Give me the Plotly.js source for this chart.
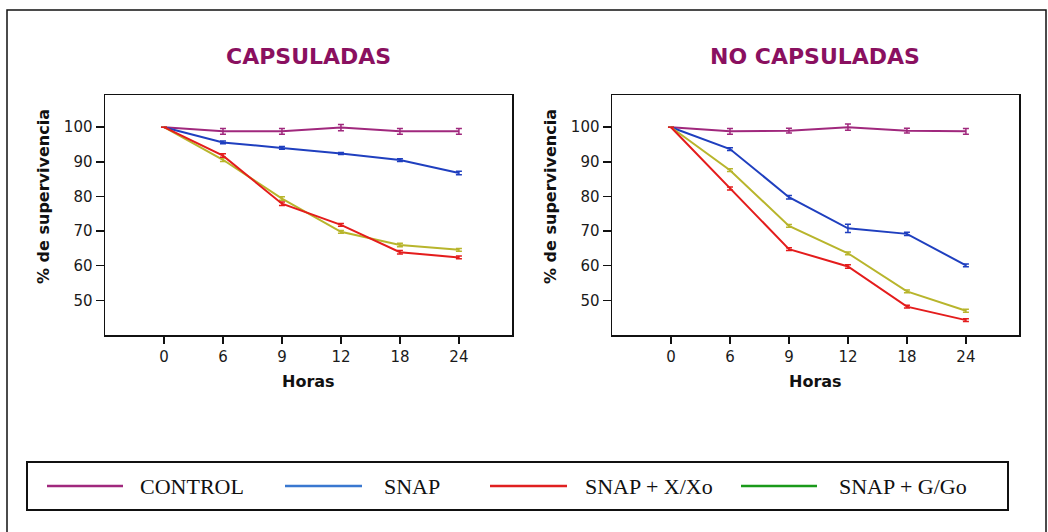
<!DOCTYPE html>
<html>
<head>
<meta charset="utf-8">
<script src="https://cdn.plot.ly/plotly-3.0.1.min.js"></script>
<style>html,body{margin:0;padding:0;background:#fff}#chart{width:1048px;height:532px}</style>
</head>
<body>
<div id="chart"></div>
<script>
// ---- data ----
const horas = ["0", "6", "9", "12", "18", "24"];
const seriesNames = ["CONTROL", "SNAP", "SNAP + X/Xo", "SNAP + G/Go"];

// CAPSULADAS
const capControl = [100, 98.8, 98.8, 99.9, 98.8, 98.8];
const capSnap    = [100, 95.6, 94.0, 92.4, 90.5, 86.8];
const capXXo     = [100, 91.8, 77.9, 71.8, 63.9, 62.4];
const capGGo     = [100, 90.6, 79.4, 69.8, 66.0, 64.6];
const capControlErr = [0, 0.8, 0.8, 0.9, 0.8, 0.8];
const capSnapErr    = [0, 0.4, 0.4, 0.3, 0.4, 0.5];
const capXXoErr     = [0, 0.5, 0.5, 0.4, 0.5, 0.4];
const capGGoErr     = [0, 0.5, 0.5, 0.4, 0.5, 0.4];

// NO CAPSULADAS
const noControl = [100, 98.8, 99.0, 100.0, 99.0, 98.8];
const noSnap    = [100, 93.7, 79.8, 70.8, 69.2, 60.1];
const noXXo     = [100, 82.3, 64.8, 59.8, 48.2, 44.3];
const noGGo     = [100, 87.6, 71.5, 63.6, 52.6, 47.0];
const noControlErr = [0, 0.8, 0.7, 0.9, 0.7, 0.8];
const noSnapErr    = [0, 0.4, 0.5, 1.2, 0.5, 0.4];
const noXXoErr     = [0, 0.4, 0.4, 0.5, 0.4, 0.4];
const noGGoErr     = [0, 0.4, 0.4, 0.4, 0.4, 0.4];

const panelTitles = ["CAPSULADAS", "NO CAPSULADAS"];
const xTitle = "Horas";
const yTitle = "% de supervivencia";
const yTicks = [50, 60, 70, 80, 90, 100];

// ---- styles ----
const lineColors = ["#a0287d", "#1f3fbf", "#e41c1c", "#b8b52c"];
const legendColors = ["#a0287d", "#3a78d0", "#e02020", "#1a9a1a"];

function mk(y, err, i, xa, ya) {
  return {
    x: horas, y: y, type: "scatter", mode: "lines",
    name: seriesNames[i], xaxis: xa, yaxis: ya, showlegend: false,
    line: {color: lineColors[i], width: 2},
    error_y: {type: "data", array: err, visible: true, color: lineColors[i], thickness: 1.5, width: 3}
  };
}

const data = [
  mk(capControl, capControlErr, 0, "x", "y"),
  mk(capSnap, capSnapErr, 1, "x", "y"),
  mk(capGGo, capGGoErr, 3, "x", "y"),
  mk(capXXo, capXXoErr, 2, "x", "y"),
  mk(noControl, noControlErr, 0, "x2", "y2"),
  mk(noSnap, noSnapErr, 1, "x2", "y2"),
  mk(noGGo, noGGoErr, 3, "x2", "y2"),
  mk(noXXo, noXXoErr, 2, "x2", "y2")
];

const W = 1048, H = 532;
const px = v => v / W;
const py = v => 1 - v / H;

const tickFont = {family: "DejaVu Sans", size: 15, color: "#1a1a1a"};
function xax(domain, anchor) {
  return {
    domain: domain, anchor: anchor, type: "category", range: [-1, 5.9],
    showline: true, linecolor: "#111", linewidth: 1.5, mirror: true,
    ticks: "outside", ticklen: 7, tickwidth: 1.5, tickcolor: "#111",
    showgrid: false, zeroline: false, tickfont: tickFont, fixedrange: true
  };
}
function yax(anchor) {
  return {
    domain: [py(335), py(95)], anchor: anchor, range: [40, 109.3],
    tickvals: yTicks, ticktext: yTicks.map(String),
    showline: true, linecolor: "#111", linewidth: 1.5, mirror: true,
    ticks: "outside", ticklen: 8, tickwidth: 1.5, tickcolor: "#111",
    showgrid: false, zeroline: false, tickfont: tickFont, fixedrange: true
  };
}

const titleFont = {family: "DejaVu Sans", size: 22, color: "#8a1060"};
const axTitleFont = {family: "DejaVu Sans", size: 16, color: "#111"};
const legFont = {family: "Liberation Serif", size: 22, color: "#111"};

const annotations = [
  {text: "<b>" + panelTitles[0] + "</b>", x: px(308), y: py(56), xref: "paper", yref: "paper", showarrow: false, font: titleFont, xanchor: "center", yanchor: "middle"},
  {text: "<b>" + panelTitles[1] + "</b>", x: px(815), y: py(56), xref: "paper", yref: "paper", showarrow: false, font: titleFont, xanchor: "center", yanchor: "middle"},
  {text: "<b>" + xTitle + "</b>", x: px(308), y: py(381), xref: "paper", yref: "paper", showarrow: false, font: axTitleFont, xanchor: "center", yanchor: "middle"},
  {text: "<b>" + xTitle + "</b>", x: px(815), y: py(381), xref: "paper", yref: "paper", showarrow: false, font: axTitleFont, xanchor: "center", yanchor: "middle"},
  {text: "<b>" + yTitle + "</b>", x: px(43), y: py(197), xref: "paper", yref: "paper", showarrow: false, font: axTitleFont, textangle: -90, xanchor: "center", yanchor: "middle"},
  {text: "<b>" + yTitle + "</b>", x: px(550), y: py(197), xref: "paper", yref: "paper", showarrow: false, font: axTitleFont, textangle: -90, xanchor: "center", yanchor: "middle"}
];

const shapes = [
  // outer frame
  {type: "rect", xref: "paper", yref: "paper", x0: px(7), x1: px(1046), y0: py(545), y1: py(10), line: {color: "#111", width: 1.5}},
  // legend box
  {type: "rect", xref: "paper", yref: "paper", x0: px(27), x1: px(1008), y0: py(510), y1: py(462), line: {color: "#111", width: 2}}
];

const legLines = [[47, 123], [285, 362], [490, 567], [741, 817]];
const legText = [138, 382, 583, 837];
for (let i = 0; i < 4; i++) {
  shapes.push({type: "line", xref: "paper", yref: "paper", x0: px(legLines[i][0]), x1: px(legLines[i][1]), y0: py(486), y1: py(486), line: {color: legendColors[i], width: 2.5}});
  annotations.push({text: seriesNames[i], x: px(legText[i]), y: py(486), xref: "paper", yref: "paper", showarrow: false, font: legFont, xanchor: "left", yanchor: "middle"});
}

const layout = {
  width: W, height: H,
  margin: {l: 0, r: 0, t: 0, b: 0},
  paper_bgcolor: "#fff", plot_bgcolor: "#fff",
  showlegend: false,
  xaxis: xax([px(105), px(512)], "y"),
  yaxis: yax("x"),
  xaxis2: xax([px(612), px(1019)], "y2"),
  yaxis2: yax("x2"),
  annotations: annotations,
  shapes: shapes
};

Plotly.newPlot("chart", data, layout, {displayModeBar: false, staticPlot: true});
</script>
</body>
</html>
